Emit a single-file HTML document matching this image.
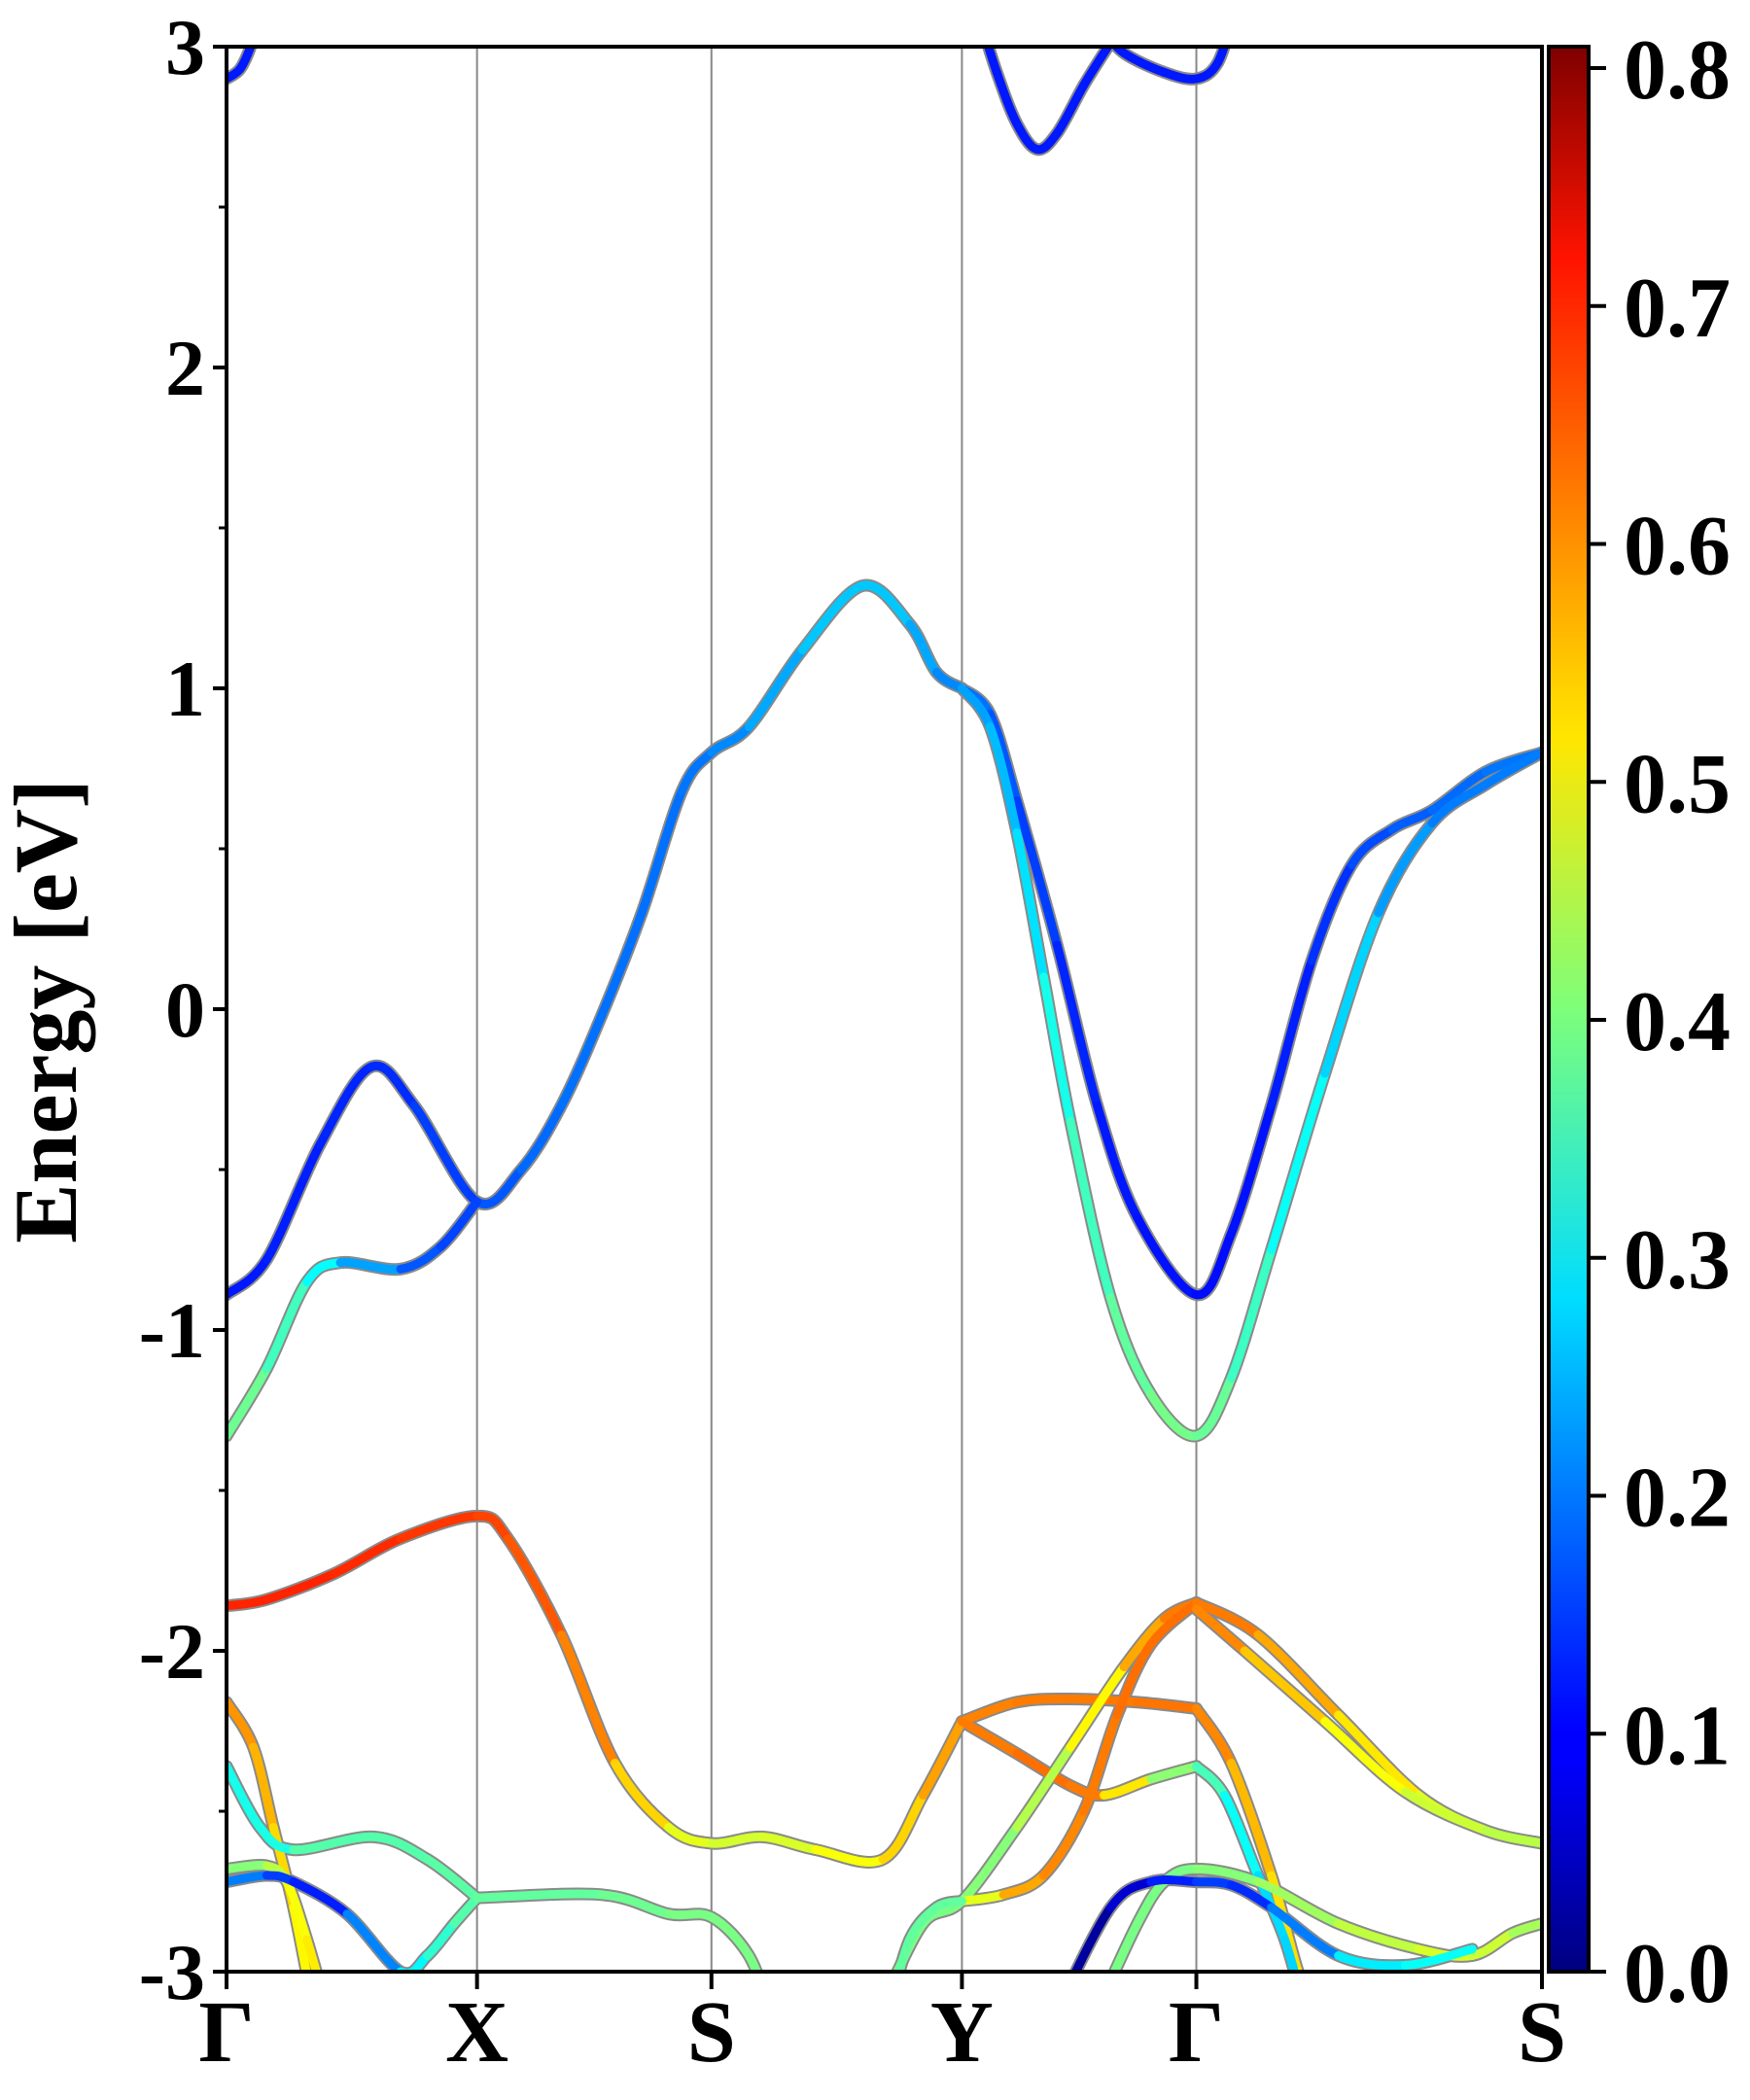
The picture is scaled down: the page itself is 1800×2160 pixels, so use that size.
<!DOCTYPE html>
<html><head><meta charset="utf-8"><style>
html,body{margin:0;padding:0;background:#fff;}
svg{display:block;}
text{font-family:"Liberation Serif","Times New Roman",serif;font-weight:bold;fill:#000;}
</style></head><body>
<svg id="chart" width="1800" height="2160" viewBox="0 0 1800 2160" xmlns="http://www.w3.org/2000/svg">
<defs>
<clipPath id="plotclip"><rect x="233" y="48" width="1353" height="1980"/></clipPath>
<linearGradient id="jet" x1="0" y1="1" x2="0" y2="0">
<stop offset="0" stop-color="#00007f"/><stop offset="0.11" stop-color="#0000ff"/><stop offset="0.125" stop-color="#0000ff"/><stop offset="0.34" stop-color="#00d4ff"/><stop offset="0.35" stop-color="#0df"/><stop offset="0.5" stop-color="#7dff7a"/><stop offset="0.64" stop-color="#ffe600"/><stop offset="0.66" stop-color="#ffd700"/><stop offset="0.89" stop-color="#ff1300"/><stop offset="1" stop-color="#7f0000"/>
</linearGradient>
</defs>
<g id="grid"></g>
<g id="bandsG" clip-path="url(#plotclip)"></g>
<rect x="233" y="48" width="1353" height="1980" fill="none" stroke="#000" stroke-width="4"/>
<g id="axes"></g>
<text font-family="Liberation Serif" transform="translate(78,1040) rotate(-90)" text-anchor="middle" font-size="92">Energy [eV]</text>
<rect x="1593" y="48" width="41" height="1980" fill="url(#jet)" stroke="#000" stroke-width="4"/>
<g id="cbar"></g>
</svg>
<script>
const kTickPos = [0,187,362,549,724,982];
const kTickLabels = ["Γ","X","S","Y","Γ","S"];
const yTicks = [-3,-2,-1,0,1,2,3];
const cbTicks = [0,0.1,0.2,0.3,0.4,0.5,0.6,0.7,0.8];
const cbMax = 0.809;

const b1k=[0,30,70,108,140,187,220,250,280,310,340,362,390,430,475,510,530,549];
const b1e=[-0.89,-0.78,-0.42,-0.18,-0.30,-0.60,-0.50,-0.30,-0.02,0.30,0.68,0.80,0.88,1.12,1.32,1.20,1.05,1.00];
const b1w=[0.12,0.12,0.13,0.13,0.14,0.16,0.18,0.19,0.19,0.19,0.19,0.2,0.22,0.25,0.27,0.25,0.22,0.2];
const b2k=[549,570,590,620,650,680,724,750,780,810,840,870,900,940,982];
const b2e=[1.00,0.92,0.65,0.20,-0.30,-0.65,-0.89,-0.70,-0.30,0.15,0.45,0.56,0.62,0.74,0.80];
const b2w=[0.2,0.18,0.16,0.14,0.12,0.12,0.11,0.11,0.12,0.13,0.15,0.17,0.18,0.19,0.2];
const b3k=[0,30,60,85,130,160,187];
const b3e=[-1.33,-1.12,-0.85,-0.79,-0.81,-0.74,-0.60];
const b3w=[0.4,0.38,0.33,0.28,0.18,0.16,0.15];
const b4k=[549,570,590,610,630,660,690,724,750,780,820,860,900,940,982];
const b4e=[1.00,0.88,0.55,0.10,-0.35,-0.90,-1.20,-1.33,-1.15,-0.75,-0.20,0.30,0.58,0.70,0.80];
const b4w=[0.22,0.24,0.26,0.3,0.34,0.37,0.39,0.4,0.37,0.33,0.29,0.25,0.2,0.2,0.2];
const b5k=[0,30,80,130,187,210,250,290,330,362,400,440,490,520,549];
const b5e=[-1.86,-1.84,-1.76,-1.65,-1.58,-1.65,-1.95,-2.35,-2.55,-2.60,-2.58,-2.62,-2.65,-2.45,-2.22];
const b5w=[0.68,0.68,0.68,0.67,0.66,0.65,0.63,0.58,0.5,0.47,0.47,0.48,0.52,0.56,0.6];
const b6k=[549,590,630,680,724];
const b6e=[-2.22,-2.16,-2.15,-2.16,-2.18];
const b6w=[0.6,0.61,0.61,0.61,0.62];
const b7k=[549,590,630,655,690,724];
const b7e=[-2.22,-2.32,-2.42,-2.45,-2.40,-2.36];
const b7w=[0.6,0.62,0.62,0.6,0.45,0.38];
const b8k=[490,520,549,590,630,670,700,724];
const b8e=[-3.1,-2.85,-2.78,-2.55,-2.30,-2.05,-1.90,-1.85];
const b8w=[0.4,0.4,0.4,0.42,0.47,0.55,0.6,0.62];
const b9k=[549,580,610,640,665,690,724];
const b9e=[-2.78,-2.76,-2.70,-2.50,-2.20,-1.98,-1.85];
const b9w=[0.42,0.55,0.6,0.6,0.62,0.62,0.62];
const b10k=[724,770,830,890,940,982];
const b10e=[-1.85,-1.95,-2.20,-2.45,-2.56,-2.60];
const b10w=[0.62,0.6,0.55,0.5,0.46,0.45];
const b11k=[724,760,820,880,940,982];
const b11e=[-1.87,-2.00,-2.22,-2.44,-2.56,-2.60];
const b11w=[0.62,0.58,0.52,0.48,0.45,0.45];
const b12k=[724,750,780,800,815];
const b12e=[-2.18,-2.35,-2.70,-3.00,-3.15];
const b12w=[0.62,0.58,0.54,0.52,0.52];
const b13k=[724,745,770,790,805];
const b13e=[-2.36,-2.45,-2.70,-2.90,-3.12];
const b13w=[0.38,0.34,0.28,0.27,0.27];
const b14k=[650,680,700,724,770,830,890,930,960,982];
const b14e=[-3.12,-2.85,-2.72,-2.68,-2.72,-2.85,-2.93,-2.95,-2.88,-2.85];
const b14w=[0.4,0.4,0.4,0.4,0.42,0.44,0.47,0.48,0.45,0.42];
const b15k=[620,660,690,724,750,780,830,880,930];
const b15e=[-3.12,-2.80,-2.72,-2.72,-2.73,-2.80,-2.95,-2.98,-2.93];
const b15w=[0.02,0.03,0.1,0.15,0.15,0.12,0.28,0.3,0.32];
const b16k=[0,20,35,50,65];
const b16e=[-2.16,-2.30,-2.55,-2.80,-3.12];
const b16w=[0.6,0.58,0.55,0.52,0.5];
const b17k=[0,25,50,110,150,187];
const b17e=[-2.36,-2.55,-2.62,-2.58,-2.65,-2.77];
const b17w=[0.36,0.28,0.37,0.37,0.37,0.38];
const b18k=[0,30,45,60,75];
const b18e=[-2.68,-2.67,-2.72,-2.90,-3.12];
const b18w=[0.4,0.42,0.48,0.52,0.52];
const b19k=[0,30,50,90,130,150,170,187];
const b19e=[-2.72,-2.70,-2.72,-2.82,-3.00,-2.95,-2.85,-2.77];
const b19w=[0.22,0.18,0.12,0.13,0.28,0.32,0.36,0.38];
const b20k=[187,280,330,362,390,405];
const b20e=[-2.77,-2.76,-2.82,-2.83,-2.95,-3.12];
const b20w=[0.38,0.38,0.4,0.4,0.4,0.4];
const b21k=[495,510,530,549];
const b21e=[-3.12,-2.90,-2.80,-2.78];
const b21w=[0.38,0.38,0.38,0.38];
const b22k=[0,10,18,25];
const b22e=[2.90,2.93,3.0,3.1];
const b22w=[0.12,0.12,0.12,0.12];
const b23k=[560,575,590,605,620,640,658,670];
const b23e=[3.12,2.92,2.76,2.68,2.73,2.88,3.0,3.08];
const b23w=[0.12,0.12,0.12,0.12,0.12,0.12,0.12,0.12];
const b24k=[655,670,700,724,740,752];
const b24e=[3.05,2.98,2.92,2.90,2.95,3.1];
const b24w=[0.12,0.12,0.12,0.12,0.12,0.12];

const bandK=[b1k,b2k,b3k,b4k,b5k,b6k,b7k,b8k,b9k,b10k,b11k,b12k,b13k,b14k,b15k,b16k,b17k,b18k,b19k,b20k,b21k,b22k,b23k,b24k];
const bandE=[b1e,b2e,b3e,b4e,b5e,b6e,b7e,b8e,b9e,b10e,b11e,b12e,b13e,b14e,b15e,b16e,b17e,b18e,b19e,b20e,b21e,b22e,b23e,b24e];
const bandW=[b1w,b2w,b3w,b4w,b5w,b6w,b7w,b8w,b9w,b10w,b11w,b12w,b13w,b14w,b15w,b16w,b17w,b18w,b19w,b20w,b21w,b22w,b23w,b24w];

const NS="http://www.w3.org/2000/svg";
const X0=233,X1=1586,Y0=48,Y1=2028;
function xS(k){return X0+k/982*(X1-X0);}
function yS(e){return Y0+(3-e)/6*(Y1-Y0);}
function cS(v){return Y1-v/cbMax*(Y1-Y0);}
function jet(v){
  let t=Math.max(0,Math.min(1,v/cbMax));
  function c(x){return Math.max(0,Math.min(1,x));}
  const r=c(1.5-Math.abs(4*t-3)), g=c(1.5-Math.abs(4*t-2)), b=c(1.5-Math.abs(4*t-1));
  return `rgb(${Math.round(r*255)},${Math.round(g*255)},${Math.round(b*255)})`;
}
function mk(tag,attrs,parent){const el=document.createElementNS(NS,tag);for(const a in attrs)el.setAttribute(a,attrs[a]);parent.appendChild(el);return el;}

const grid=document.getElementById('grid');
const axes=document.getElementById('axes');
kTickPos.forEach((k,i)=>{
  if(i>0&&i<kTickPos.length-1){
    const l=mk('line',{x1:xS(k),x2:xS(k),y1:Y0,y2:Y1,stroke:'#888','stroke-width':2},grid);
    
    
  }
  const t=mk('line',{x1:xS(k),x2:xS(k),y1:Y1,y2:Y1+18,stroke:'#000','stroke-width':4},axes);
  
  
  const tx=mk('text',{x:xS(k),y:2120,'text-anchor':'middle','font-size':90,'font-family':'Liberation Serif'},axes);
  tx.textContent=kTickLabels[i];
  
  
});
yTicks.forEach(e=>{
  const t=mk('line',{x1:X0-14,x2:X0,y1:yS(e),y2:yS(e),stroke:'#000','stroke-width':4},axes);
  
  
  const tx=mk('text',{x:X0-22,y:yS(e)+28,'text-anchor':'end','font-size':82,'font-family':'Liberation Serif'},axes);
  tx.textContent=String(e);
  
  
});
for(let e=-2.5;e<3;e+=1){
  const t=mk('line',{x1:X0-8,x2:X0,y1:yS(e),y2:yS(e),stroke:'#000','stroke-width':3},axes);
  
  
}
const cbar=document.getElementById('cbar');
cbTicks.forEach(v=>{
  const t=mk('line',{x1:1634,x2:1652,y1:cS(v),y2:cS(v),stroke:'#000','stroke-width':4},cbar);
  
  
  const tx=mk('text',{x:1670,y:cS(v)+31,'font-size':88,'font-family':'Liberation Serif'},cbar);
  tx.textContent=v.toFixed(1);
  
  
});

const bg=document.getElementById('bandsG');
function segs(ks,es){
  const P=ks.map((k,i)=>[xS(k),yS(es[i])]);
  const out=[];
  for(let i=0;i<P.length-1;i++){
    const p0=P[Math.max(0,i-1)],p1=P[i],p2=P[i+1],p3=P[Math.min(P.length-1,i+2)];
    const c1=[p1[0]+(p2[0]-p0[0])/6,p1[1]+(p2[1]-p0[1])/6];
    const c2=[p2[0]-(p3[0]-p1[0])/6,p2[1]-(p3[1]-p1[1])/6];
    out.push({p1,c1,c2,p2});
  }
  return out;
}
bandK.forEach((ks,bi)=>{
  const es=bandE[bi];
  const S=segs(ks,es);
  let d='M'+S[0].p1.join(',');
  S.forEach(s=>{d+=' C'+s.c1.join(',')+' '+s.c2.join(',')+' '+s.p2.join(',');});
  const o=mk('path',{d:d,fill:'none',stroke:'#8a8a8a','stroke-width':13,'stroke-linecap':'round'},bg);
  
  
});
bandK.forEach((ks,bi)=>{
  const es=bandE[bi],ws=bandW[bi];
  const S=segs(ks,es);
  S.forEach((s,i)=>{
    const d='M'+s.p1.join(',')+' C'+s.c1.join(',')+' '+s.c2.join(',')+' '+s.p2.join(',');
    const p=mk('path',{d:d,fill:'none',stroke:jet((ws[i]+ws[i+1])/2),'stroke-width':9,'stroke-linecap':'round'},bg);
    
    
  });
});
</script>
</body></html>
